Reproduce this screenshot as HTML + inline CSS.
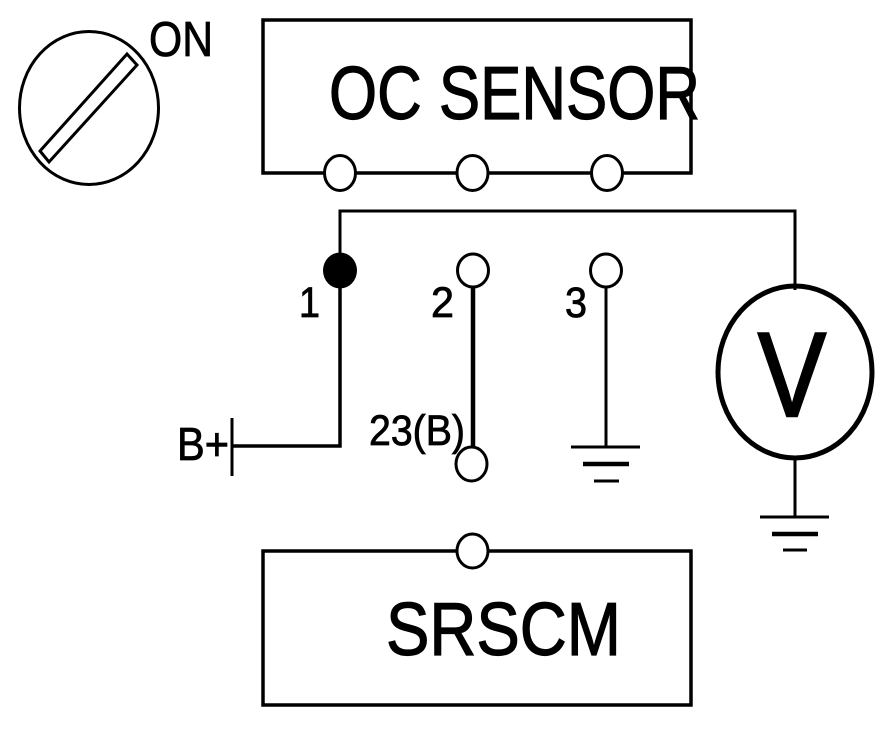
<!DOCTYPE html>
<html>
<head>
<meta charset="utf-8">
<style>
html,body{margin:0;padding:0;background:#fff;}
svg{display:block;}
text{font-family:"Liberation Sans",sans-serif;fill:#000;stroke:#000;stroke-width:0.8;}
</style>
</head>
<body>
<svg width="896" height="730" viewBox="0 0 896 730" xmlns="http://www.w3.org/2000/svg">
<g fill="none" stroke="#000" stroke-width="3">
  <!-- key switch -->
  <ellipse cx="89" cy="108" rx="69.5" ry="76.5"/>
  <polygon points="127,54 137,65 49,162 40,151"/>
  <!-- OC sensor -->
  <rect x="263" y="20" width="428" height="153" stroke-width="3.5"/>
  <!-- SRSCM -->
  <rect x="263" y="551" width="428" height="154" stroke-width="3.5"/>
  <!-- main wire -->
  <polyline points="340,270 340,211 795,211 795,290"/>
  <polyline points="340,270 340,446 232,446" stroke-width="3.5"/>
  <line x1="232" y1="418" x2="232" y2="476"/>
  <line x1="473" y1="270" x2="473" y2="464" stroke-width="4.5"/>
  <line x1="606" y1="270" x2="606" y2="447"/>
  <!-- ground 3 -->
  <line x1="571" y1="447" x2="640" y2="447"/>
  <line x1="583" y1="464" x2="629" y2="464" stroke-width="4.5"/>
  <line x1="594" y1="481" x2="619" y2="481"/>
  <!-- voltmeter -->
  <ellipse cx="795" cy="372" rx="77" ry="86" stroke-width="5"/>
  <line x1="795" y1="458" x2="795" y2="517"/>
  <line x1="760" y1="517" x2="829" y2="517"/>
  <line x1="772" y1="534" x2="818" y2="534" stroke-width="4.5"/>
  <line x1="783" y1="550" x2="807" y2="550"/>
</g>
<g fill="#fff" stroke="#000" stroke-width="3">
  <ellipse cx="340" cy="173" rx="15.5" ry="17.5"/>
  <ellipse cx="472.500" cy="173" rx="15.5" ry="17.5"/>
  <ellipse cx="607" cy="173" rx="15.5" ry="17.5"/>
  <ellipse cx="473" cy="270.500" rx="15.5" ry="16.500"/>
  <ellipse cx="606" cy="270.500" rx="15.5" ry="16.500"/>
  <ellipse cx="471.500" cy="464" rx="15.5" ry="17"/>
  <ellipse cx="472.500" cy="551" rx="15.5" ry="17"/>
</g>
<ellipse cx="340" cy="270.500" rx="17" ry="18" fill="#000"/>
<text x="149" y="56" font-size="49" textLength="64" lengthAdjust="spacingAndGlyphs">ON</text>
<text x="329" y="119" font-size="75" textLength="371" lengthAdjust="spacingAndGlyphs" style="stroke-width:1.2">OC SENSOR</text>
<text x="299" y="317" font-size="43" textLength="21" lengthAdjust="spacingAndGlyphs">1</text>
<text x="431" y="317" font-size="43" textLength="23" lengthAdjust="spacingAndGlyphs">2</text>
<text x="565" y="317" font-size="43" textLength="22" lengthAdjust="spacingAndGlyphs">3</text>
<text x="177" y="460" font-size="46" textLength="52" lengthAdjust="spacingAndGlyphs">B+</text>
<text x="369" y="445" font-size="43" textLength="96" lengthAdjust="spacingAndGlyphs">23(B)</text>
<text x="386" y="655" font-size="75" textLength="235" lengthAdjust="spacingAndGlyphs" style="stroke-width:1.2">SRSCM</text>
<text x="758" y="416" font-size="120" textLength="68" lengthAdjust="spacingAndGlyphs" style="stroke-width:2.5">V</text>
</svg>
</body>
</html>
